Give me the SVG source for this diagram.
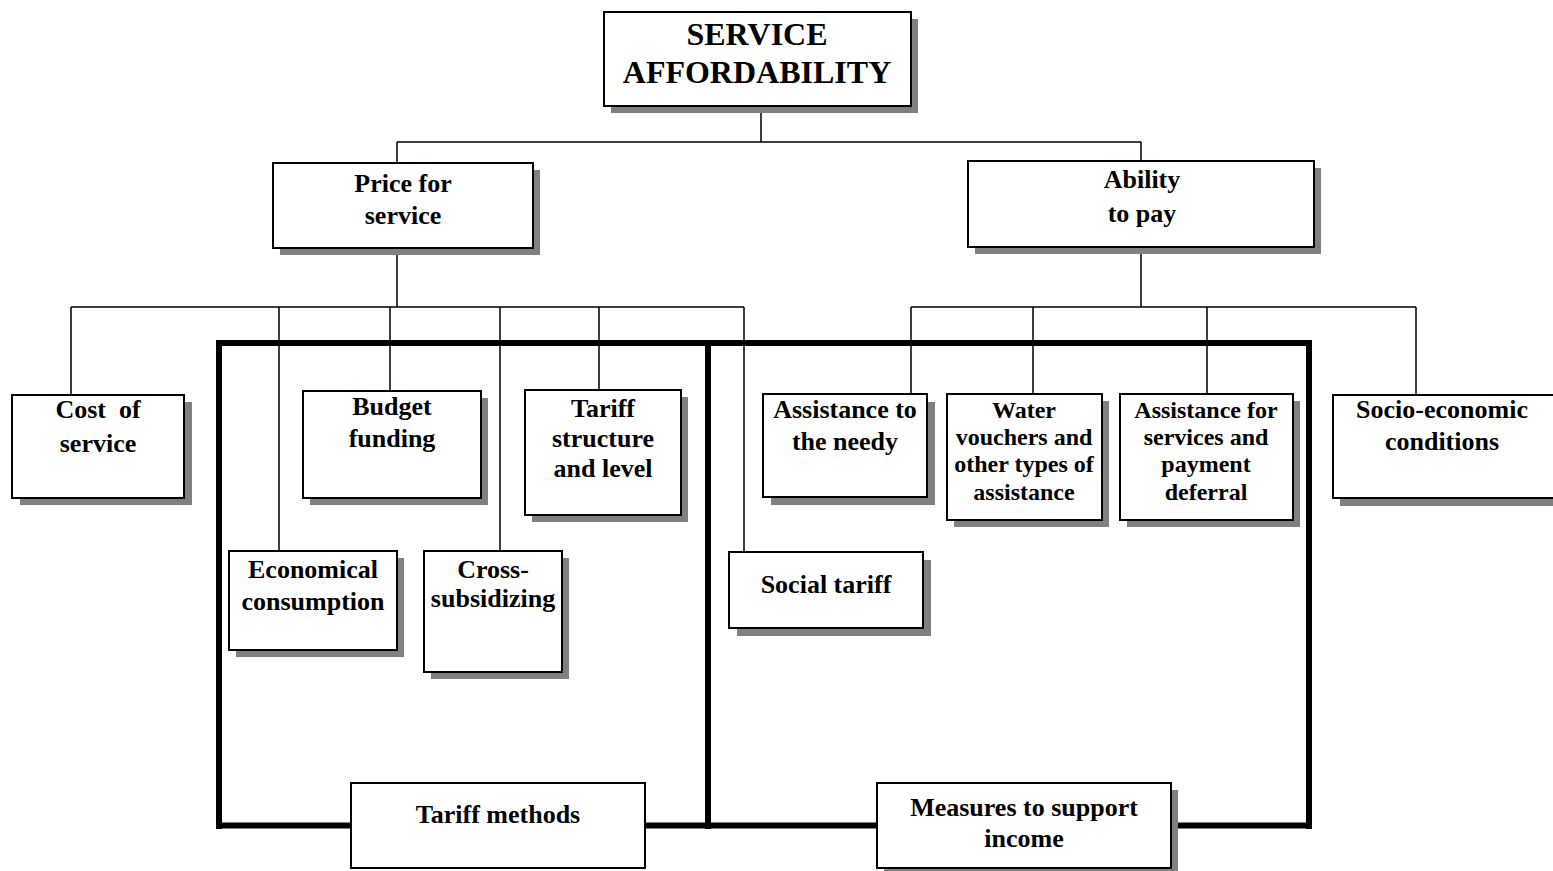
<svg xmlns="http://www.w3.org/2000/svg" width="1553" height="871" viewBox="0 0 1553 871">
<style>
.sh{fill:#808080;stroke:none}
.bx{fill:#fff;stroke:#000;stroke-width:2}
.ln{stroke:#000;stroke-width:1.5;fill:none}
.fr{stroke:#000;stroke-width:6;fill:none}
text{font-family:"Liberation Serif","Times New Roman",serif;font-weight:bold;fill:#000;text-anchor:middle}
.t26{font-size:26px}
.t24{font-size:24px}
.t32{font-size:32px}
</style>
<rect width="1553" height="871" fill="#fff"/>
<g id="frames">
<path class="fr" d="M219,829 V343 H1309 V829"/>
<path class="fr" d="M708,343 V829"/>
<path class="fr" d="M216,825.5 H1312"/>
</g>
<g id="connectors">
<path class="ln" d="M761,106 V142 M397,142 H1141 M397,142 V163 M1141,142 V161"/>
<path class="ln" d="M397,248 V307 M71,307 H744 M71,307 V395 M279,307 V551 M390,307 V391 M500,307 V551 M599,307 V390 M744,307 V552"/>
<path class="ln" d="M1141,247 V307 M911,307 H1416 M911,307 V394 M1033,307 V394 M1207,307 V394 M1416,307 V395"/>
</g>
<g id="n-root">
<rect class="sh" x="611" y="19" width="307" height="94"/>
<rect class="bx" x="604" y="12" width="307" height="94"/>
<text class="t32" x="757" y="45">SERVICE</text>
<text class="t32" x="757" y="83">AFFORDABILITY</text>
</g>
<g id="n-price">
<rect class="sh" x="280" y="170" width="260" height="85"/>
<rect class="bx" x="273" y="163" width="260" height="85"/>
<text class="t26" x="403" y="192">Price for</text>
<text class="t26" x="403" y="224">service</text>
</g>
<g id="n-ability">
<rect class="sh" x="975" y="168" width="346" height="86"/>
<rect class="bx" x="968" y="161" width="346" height="86"/>
<text class="t26" x="1142" y="188">Ability</text>
<text class="t26" x="1142" y="222">to pay</text>
</g>
<g id="n-cost">
<rect class="sh" x="20" y="402" width="172" height="103"/>
<rect class="bx" x="12" y="395" width="172" height="103"/>
<text class="t26" x="98" y="418" xml:space="preserve">Cost  of</text>
<text class="t26" x="98" y="452">service</text>
</g>
<g id="n-budget">
<rect class="sh" x="310" y="398" width="178" height="107"/>
<rect class="bx" x="303" y="391" width="178" height="107"/>
<text class="t26" x="392" y="415">Budget</text>
<text class="t26" x="392" y="447">funding</text>
</g>
<g id="n-tariffstruct">
<rect class="sh" x="532" y="397" width="156" height="125"/>
<rect class="bx" x="525" y="390" width="156" height="125"/>
<text class="t26" x="603" y="417">Tariff</text>
<text class="t26" x="603" y="447">structure</text>
<text class="t26" x="603" y="477">and level</text>
</g>
<g id="n-econ">
<rect class="sh" x="236" y="558" width="168" height="99"/>
<rect class="bx" x="229" y="551" width="168" height="99"/>
<text class="t26" x="313" y="578">Economical</text>
<text class="t26" x="313" y="610">consumption</text>
</g>
<g id="n-cross">
<rect class="sh" x="431" y="558" width="138" height="121"/>
<rect class="bx" x="424" y="551" width="138" height="121"/>
<text class="t26" x="493" y="578">Cross-</text>
<text class="t26" x="493" y="607">subsidizing</text>
</g>
<g id="n-social">
<rect class="sh" x="737" y="560" width="194" height="76"/>
<rect class="bx" x="729" y="552" width="194" height="76"/>
<text class="t26" x="826" y="593">Social tariff</text>
</g>
<g id="n-needy">
<rect class="sh" x="771" y="402" width="164" height="103"/>
<rect class="bx" x="763" y="394" width="164" height="103"/>
<text class="t26" x="845" y="418">Assistance to</text>
<text class="t26" x="845" y="450">the needy</text>
</g>
<g id="n-water">
<rect class="sh" x="954" y="401" width="155" height="126"/>
<rect class="bx" x="947" y="394" width="155" height="126"/>
<text class="t24" x="1024" y="418">Water</text>
<text class="t24" x="1024" y="445">vouchers and</text>
<text class="t24" x="1024" y="472">other types of</text>
<text class="t24" x="1024" y="500">assistance</text>
</g>
<g id="n-deferral">
<rect class="sh" x="1127" y="401" width="173" height="126"/>
<rect class="bx" x="1120" y="394" width="173" height="126"/>
<text class="t24" x="1206" y="418">Assistance for</text>
<text class="t24" x="1206" y="445">services and</text>
<text class="t24" x="1206" y="472">payment</text>
<text class="t24" x="1206" y="500">deferral</text>
</g>
<g id="n-socio">
<rect class="sh" x="1340" y="402" width="220" height="104"/>
<rect class="bx" x="1333" y="395" width="225" height="103"/>
<text class="t26" x="1442" y="418">Socio-economic</text>
<text class="t26" x="1442" y="450">conditions</text>
</g>
<g id="n-tariffmethods">
<rect class="bx" x="351" y="783" width="294" height="85"/>
<text class="t26" x="498" y="823">Tariff methods</text>
</g>
<g id="n-measures">
<rect class="sh" x="884" y="790" width="294" height="85"/>
<rect class="bx" x="877" y="783" width="294" height="85"/>
<text class="t26" x="1024" y="816">Measures to support</text>
<text class="t26" x="1024" y="847">income</text>
</g>
</svg>
